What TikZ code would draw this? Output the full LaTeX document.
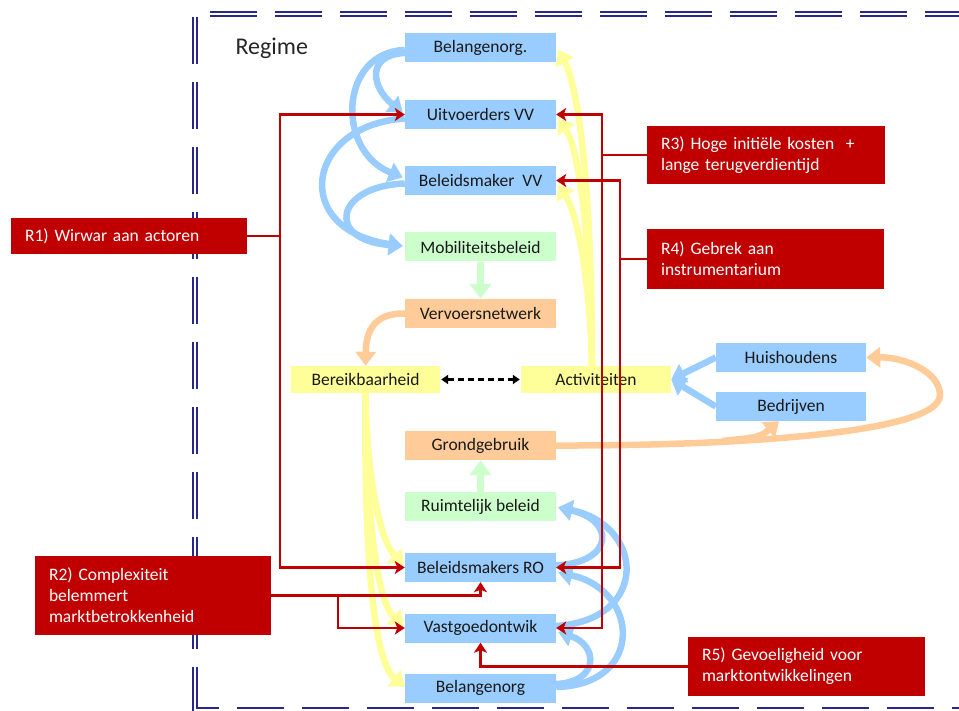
\documentclass[tikz,border=0pt]{standalone}
\usepackage{fontspec}
\setmainfont{Carlito}
\usetikzlibrary{arrows.meta,calc}
\definecolor{boxblue}{RGB}{153,204,255}
\definecolor{boxgreen}{RGB}{204,255,204}
\definecolor{boxorange}{RGB}{255,204,153}
\definecolor{boxyellow}{RGB}{255,255,153}
\definecolor{riskred}{RGB}{192,0,0}
\definecolor{framenavy}{RGB}{40,40,140}
\pgfdeclarelayer{background}
\pgfsetlayers{background,main}
\begin{document}
\begin{tikzpicture}[x=1pt,y=-1pt,
  every node/.style={font=\fontsize{17.5}{21}\selectfont},
  actor/.style={minimum width=151pt,minimum height=29pt,inner sep=0pt,text=black!90},
  actblue/.style={actor,fill=boxblue},
  actgreen/.style={actor,fill=boxgreen},
  actorange/.style={actor,fill=boxorange},
  actyellow/.style={actor,fill=boxyellow},
  risk/.style={fill=riskred,text=white,align=left,inner xsep=14pt,inner ysep=0pt},
  thickflow/.style={line width=6.5pt,-{Triangle[width=20pt,length=14pt]}},
  flowblue/.style={thickflow,draw=boxblue},
  flowyellow/.style={thickflow,draw=boxyellow},
  floworange/.style={thickflow,draw=boxorange},
  flowgreen/.style={thickflow,draw=boxgreen,-{Triangle[width=21pt,length=15pt]}},
  redln/.style={draw=riskred,line width=2.6pt},
  redarr/.style={redln,-{Stealth[width=13pt,length=10pt,inset=2.5pt]}},
  dasharrow/.style={draw=black,line width=2.1pt,dash pattern=on 6pt off 4pt,
    {Triangle[width=9pt,length=7pt]}-{Triangle[width=9pt,length=7pt]}},
  frameline/.style={draw=framenavy,line width=1.8pt,double=white,double distance=2pt,
    dash pattern=on 47pt off 18pt}
]
\useasboundingbox (0,0) rectangle (959,711);

% regime label
\node[font=\fontsize{24}{28}\selectfont,anchor=base west,text=black!85] (regime) at (232,55) {Regime};

% actors
\node[actblue] (bo1) at (480.5,48) {Belangenorg.};
\node[actblue] (uvv) at (480.5,114.5) {Uitvoerders VV};
\node[actblue] (bvv) at (480.5,180.5) {Beleidsmaker\ \ VV};
\node[actgreen] (mob) at (480.5,247) {Mobiliteitsbeleid};
\node[actorange] (vvn) at (480.5,313.5) {Vervoersnetwerk};
\node[actyellow,minimum width=149pt,minimum height=27pt] (ber) at (365.5,379.5) {Bereikbaarheid};
\node[actyellow,minimum width=150pt,minimum height=27pt] (act) at (596,379.5) {Activiteiten};
\node[actblue,minimum width=150pt] (hh) at (791,357.5) {Huishoudens};
\node[actblue,minimum width=150pt] (bed) at (791,406.5) {Bedrijven};
\node[actorange] (gg) at (480.5,445.5) {Grondgebruik};
\node[actgreen] (rb) at (480.5,506.5) {Ruimtelijk beleid};
\node[actblue] (bro) at (480.5,567.5) {Beleidsmakers RO};
\node[actblue] (vgo) at (480.5,628) {Vastgoedontwik};
\node[actblue] (bo2) at (480.5,688) {Belangenorg};

% risks
\node[risk,text width=208pt,minimum height=36pt] (r1) at (129,236) {R1) Wirwar aan actoren};
\node[risk,text width=210pt,minimum height=58pt] (r3) at (766,155) {R3) Hoge initiële kosten\ \ +\\lange terugverdientijd};
\node[risk,text width=209pt,minimum height=60pt] (r4) at (765.5,259) {R4) Gebrek aan\\instrumentarium};
\node[risk,text width=208pt,minimum height=79pt] (r2) at (153,595.5) {R2) Complexiteit\\belemmert\\marktbetrokkenheid};
\node[risk,text width=209pt,minimum height=59pt] (r5) at (806.5,666.5) {R5) Gevoeligheid voor\\marktontwikkelingen};

\begin{pgfonlayer}{background}
  % regime frame
  \draw[frameline] (210,14) -- (959,14);
  \draw[frameline] (195,17) -- (195,711);
  \draw[frameline,dash phase=24pt] (196,710) -- (959,710);

  % actor relations, transport side
  \draw[flowblue] ($(bo1.west)+(0,5)$) .. controls (365,55) and (372,88) .. ($(uvv.west)+(-2,-2)$);
  \draw[flowblue] ($(bo1.west)+(0,2)$) .. controls (340,52) and (335,150) .. ($(bvv.west)+(-2,-3)$);
  \draw[flowblue] ($(uvv.west)+(0,4)$) .. controls (305,125) and (290,230) .. ($(mob.west)+(-2,-1)$);
  \draw[flowblue] ($(bvv.west)+(0,3)$) .. controls (335,186) and (325,240) .. ($(mob.west)+(-2,-1)$);

  % actor relations, spatial side
  \draw[flowblue] ($(bo2.east)+(0,-4)$) .. controls (600,682) and (598,645) .. ($(vgo.east)+(2,4)$);
  \draw[flowblue] ($(bo2.east)+(0,-1)$) .. controls (645,685) and (640,590) .. ($(bro.east)+(2,5)$);
  \draw[flowblue] ($(vgo.east)+(0,-2)$) .. controls (650,620) and (645,525) .. ($(rb.east)+(2,1)$);
  \draw[flowblue] ($(bro.east)+(0,-2)$) .. controls (615,562) and (615,520) .. ($(rb.east)+(2,1)$);

  % households and firms
  \draw[flowblue] (hh.west) -- (act.east);
  \draw[flowblue] (bed.west) -- (act.east);

  % policy to networks and land use
  \draw[flowgreen] (mob.south) -- (vvn.north);
  \draw[flowgreen] (rb.north) -- (gg.south);

  % networks and land use
  \draw[floworange] (vvn.west) .. controls (375,313) and (366,330) .. (ber.north);
  \draw[floworange] (gg.east) .. controls (720,446) and (940,435) .. (940,395)
        .. controls (940,372) and (905,357) .. (hh.east);
  \draw[floworange] (722,441) .. controls (760,437) .. ($(bed.south)+(-12,0)$);

  % activities feed back to transport actors
  \draw[flowyellow] ($(act.north)+(-4,0)$) .. controls (592,200) and (580,90) .. ($(bo1.east)+(2,2)$);
  \draw[flowyellow] ($(act.north)+(-4,0)$) .. controls (590,240) and (580,150) .. ($(uvv.east)+(2,4)$);
  \draw[flowyellow] ($(act.north)+(-4,0)$) .. controls (590,280) and (578,215) .. ($(bvv.east)+(2,4)$);

  % accessibility feeds spatial actors
  \draw[flowyellow] (ber.south) .. controls (367,480) and (380,540) .. ($(bro.west)+(-1,-2)$);
  \draw[flowyellow] (ber.south) .. controls (366,500) and (375,600) .. ($(vgo.west)+(-1,-2)$);
  \draw[flowyellow] (ber.south) .. controls (364,540) and (372,660) .. ($(bo2.west)+(0,-1)$);
\end{pgfonlayer}

% accessibility vs activities
\draw[dasharrow] ($(ber.east)+(1,0)$) -- ($(act.west)+(-1,0)$);

% risk R1
\coordinate (j1) at (280,236);
\draw[redln] (r1.east) -- (j1);
\draw[redarr] (j1) |- (uvv.west);
\draw[redarr] (j1) |- (bro.west);
% risk R3
\coordinate (j3) at (602,155);
\draw[redln] (r3.west) -- (j3);
\draw[redarr] (j3) |- (uvv.east);
\draw[redarr] (j3) |- (vgo.east);
% risk R4
\coordinate (j4) at (620,259);
\draw[redln] (r4.west) -- (j4);
\draw[redarr] (j4) |- (bvv.east);
\draw[redarr] (j4) |- (bro.east);
% risk R2
\coordinate (j2) at (338,595.5);
\draw[redarr] (r2.east) -| (bro.south);
\draw[redarr] (j2) |- (vgo.west);
% risk R5
\draw[redarr] (r5.west) -| (vgo.south);
\end{tikzpicture}
\end{document}
